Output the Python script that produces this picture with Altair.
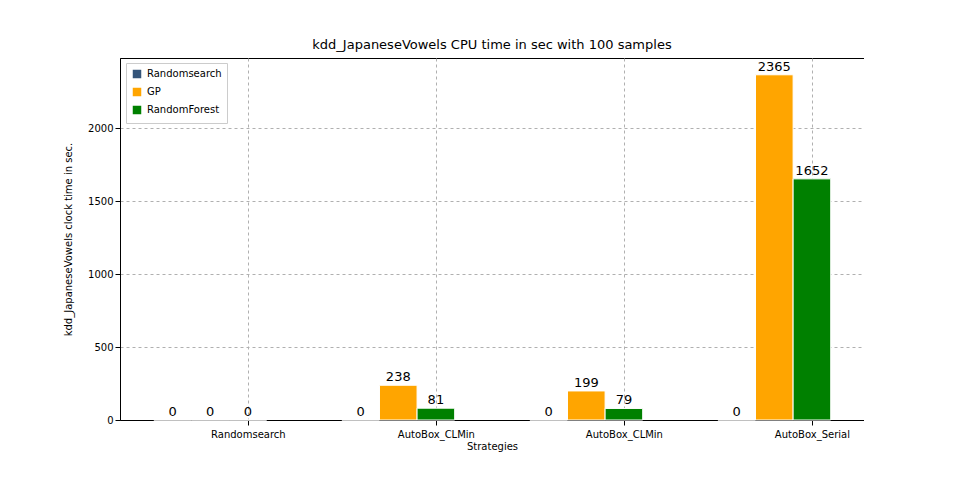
import altair as alt
import pandas as pd

categories = ["Randomsearch", "AutoBox_CLMin", "AutoBox_CLMin", "AutoBox_Serial"]
series = ["Randomsearch", "GP", "RandomForest"]
randomsearch = [0, 0, 0, 0]
gp = [0, 238, 199, 2365]
randomforest = [0, 81, 79, 1652]
colors = ["#34557a", "#FFA500", "#008000"]

rows = []
for i, cat in enumerate(categories):
    for j, (s, vals) in enumerate(zip(series, [randomsearch, gp, randomforest])):
        pos = i + (j - 2) * 0.2
        rows.append({"group": i, "series": s, "value": vals[i], "base": 0,
                     "x0": pos - 0.1, "x1": pos + 0.1, "xc": pos, "order": j})
df = pd.DataFrame(rows)

label_expr = "[" + ",".join(f"'{c}'" for c in categories) + "][datum.value]"
font = "DejaVu Sans"

x_scale = alt.Scale(domain=[-0.68, 3.277], nice=False, zero=False)
y_scale = alt.Scale(domain=[0, 2480], nice=False)

bars = alt.Chart(df).mark_bar(stroke="white", strokeWidth=1).encode(
    x=alt.X("x0:Q", scale=x_scale,
            axis=alt.Axis(values=[0, 1, 2, 3], labelExpr=label_expr, title="Strategies",
                          grid=True, gridDash=[3, 3], gridColor="#b0b0b0",
                          domainColor="black", tickColor="black", labelColor="black",
                          labelFont=font, labelFontSize=10, titleFont=font,
                          titleFontSize=10, titleFontWeight="normal", labelPadding=4,
                          titlePadding=2)),
    x2="x1:Q",
    y=alt.Y("value:Q", scale=y_scale,
            axis=alt.Axis(values=[0, 500, 1000, 1500, 2000], format="d",
                          title="kdd_JapaneseVowels clock time in sec.",
                          grid=True, gridDash=[3, 3], gridColor="#b0b0b0",
                          domainColor="black", tickColor="black", labelColor="black",
                          labelFont=font, labelFontSize=10, titleFont=font,
                          titleFontSize=10, titleFontWeight="normal", titlePadding=14)),
    y2="base:Q",
    color=alt.Color("series:N", scale=alt.Scale(domain=series, range=colors),
                    sort=series,
                    legend=alt.Legend(title=None, orient="none", legendX=6, legendY=5,
                                      symbolType="square", labelFont=font, labelFontSize=10,
                                      fillColor="white", strokeColor="#cccccc",
                                      padding=5, rowPadding=2, symbolSize=100)),
)

texts = alt.Chart(df).mark_text(dy=-8, fontSize=13, font=font, color="black").encode(
    x=alt.X("xc:Q", scale=x_scale),
    y=alt.Y("value:Q", scale=y_scale),
    text="value:Q",
)

chart = (bars + texts).properties(
    width=744, height=362,
    title=alt.TitleParams("kdd_JapaneseVowels CPU time in sec with 100 samples",
                          font=font, fontSize=13, fontWeight="normal", offset=6),
    autosize=alt.AutoSizeParams(type="none"),
    padding={"left": 112, "top": 50, "right": 0, "bottom": 60},
).configure_view(stroke="black", strokeWidth=1)

chart.save("out.html", embed_options={"renderer": "svg", "actions": False})
